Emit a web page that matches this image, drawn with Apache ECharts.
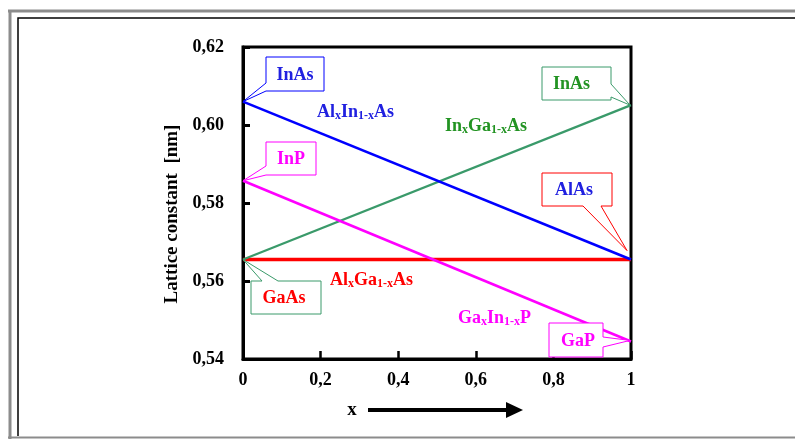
<!DOCTYPE html>
<html><head><meta charset="utf-8">
<script src="https://cdn.jsdelivr.net/npm/echarts@6/dist/echarts.min.js"></script>
<style>html,body{margin:0;padding:0;background:#fff;overflow:hidden}#c{width:795px;height:439px}</style>
</head><body><div id="c"></div>
<script>
// ---- data ----
const xValues = [0, 1];
const alInAs = [0.6060, 0.5655];   // Al_x In_1-x As
const inGaAs = [0.5655, 0.6051];   // In_x Ga_1-x As
const alGaAs = [0.5655, 0.5655];   // Al_x Ga_1-x As
const gaInP  = [0.5857, 0.5445];   // Ga_x In_1-x P
const xTicks = [0, 0.2, 0.4, 0.6, 0.8, 1];
const xTickLabels = ['0', '0,2', '0,4', '0,6', '0,8', '1'];
const yTicks = [0.54, 0.56, 0.58, 0.60, 0.62];
const yTickLabels = ['0,54', '0,56', '0,58', '0,60', '0,62'];
const yTitle = 'Lattice constant  [nm]';
const xTitle = 'x';

const BLUE = '#0000ff', BLUE_T = '#2020e0';
const GREEN = '#3a9a6a', GREEN_T = '#229322';
const RED = '#ff0000', MAG = '#ff00ff';
const FONT = '"Liberation Serif","Times New Roman",serif';

function lab(v, ticks, labels) {
  let bi = 0, bd = 1e9;
  ticks.forEach((t, i) => { const d = Math.abs(t - v); if (d < bd) { bd = d; bi = i; } });
  return labels[bi];
}
function pairs(ys) { return xValues.map((x, i) => [x, ys[i]]); }

const chart = echarts.init(document.getElementById('c'), null, { renderer: 'canvas' });
const option = {
  animation: false,
  backgroundColor: '#fff',
  grid: { left: 243, top: 47, width: 388, height: 312, show: true, borderColor: '#000', borderWidth: 3, backgroundColor: 'transparent' },
  xAxis: {
    type: 'value', min: 0, max: 1, interval: 0.2,
    axisLine: { show: true, lineStyle: { color: '#000', width: 3 } },
    axisTick: { show: true, inside: true, length: 8, lineStyle: { color: '#000', width: 2.5 } },
    axisLabel: { margin: 12, color: '#000', fontFamily: FONT, fontWeight: 'bold', fontSize: 18,
      formatter: v => lab(v, xTicks, xTickLabels) },
    splitLine: { show: false }
  },
  yAxis: {
    type: 'value', min: 0.54, max: 0.62, interval: 0.02,
    axisLine: { show: true, lineStyle: { color: '#000', width: 3 } },
    axisTick: { show: true, inside: true, length: 7, lineStyle: { color: '#000', width: 3 } },
    axisLabel: { margin: 19, color: '#000', fontFamily: FONT, fontWeight: 'bold', fontSize: 18,
      formatter: v => lab(v, yTicks, yTickLabels) },
    splitLine: { show: false }
  },
  series: [
    { type: 'line', data: pairs(alGaAs), symbol: 'none', lineStyle: { color: RED, width: 3.5 }, z: 3 },
    { type: 'line', data: pairs(inGaAs), symbol: 'none', lineStyle: { color: GREEN, width: 2.2 }, z: 3 },
    { type: 'line', data: pairs(gaInP), symbol: 'none', lineStyle: { color: MAG, width: 2.6 }, z: 3 },
    { type: 'line', data: pairs(alInAs), symbol: 'none', lineStyle: { color: BLUE, width: 2.6 }, z: 4 }
  ]
};
chart.setOption(option);

function px(x, y) { return chart.convertToPixel({ gridIndex: 0 }, [x, y]); }

function calloutPoints(b, side, b1, b2, tip) {
  const [x0, y0, x1, y1] = b;
  if (side === 'left') return [[x0,y0],[x1,y0],[x1,y1],[x0,y1],[x0,b2],tip,[x0,b1]];
  if (side === 'right') return [[x0,y0],[x1,y0],[x1,b1],tip,[x1,b2],[x1,y1],[x0,y1]];
  if (side === 'bottom') return [[x0,y0],[x1,y0],[x1,y1],[b2,y1],tip,[b1,y1],[x0,y1]];
  return [[x0,y0],[b1,y0],tip,[b2,y0],[x1,y0],[x1,y1],[x0,y1]];
}

const callouts = [
  { text: 'InAs', anchor: [xValues[0], alInAs[0]], off: [0, 0], box: [266, 57, 324, 91], side: 'left', b1: 83, b2: 91, stroke: BLUE, color: BLUE_T, dx: 0 },
  { text: 'InP', anchor: [xValues[0], gaInP[0]], off: [0, 0], box: [266, 142, 316, 175], side: 'left', b1: 166, b2: 175, stroke: MAG, color: MAG, dx: 0 },
  { text: 'InAs', anchor: [xValues[1], inGaAs[1]], off: [-1, 0], box: [542, 67, 611, 100], side: 'right', b1: 84, b2: 97, stroke: GREEN, color: GREEN_T, dx: -5 },
  { text: 'AlAs', anchor: [xValues[1], alGaAs[1]], off: [-4, -9], box: [542, 173, 612, 206], side: 'bottom', b1: 583, b2: 601, stroke: RED, color: BLUE_T, dx: -3 },
  { text: 'GaAs', anchor: [xValues[0], alGaAs[0]], off: [0, 0], box: [251, 281, 321, 314], side: 'top', b1: 262, b2: 278, stroke: GREEN, color: RED, dx: -2 },
  { text: 'GaP', anchor: [xValues[1], gaInP[1]], off: [-1, -1], box: [549, 323, 603, 357], side: 'right', b1: 337, b2: 347, stroke: MAG, color: MAG, dx: 2 }
];

const g = [];
// frame (gray outer border on top/left/bottom, black inner edge)
g.push({ type: 'line', shape: { x1: 8, y1: 11, x2: 800, y2: 11 }, style: { stroke: '#8c8c8c', lineWidth: 3 }, z: 0 });
g.push({ type: 'line', shape: { x1: 10, y1: 10, x2: 10, y2: 439 }, style: { stroke: '#8c8c8c', lineWidth: 3 }, z: 0 });
g.push({ type: 'line', shape: { x1: 8, y1: 437.5, x2: 800, y2: 437.5 }, style: { stroke: '#8c8c8c', lineWidth: 2 }, z: 0 });
g.push({ type: 'polyline', shape: { points: [[18, 436], [18, 18], [800, 18]] }, style: { fill: 'none', stroke: '#000', lineWidth: 1.5 }, z: 0 });

callouts.forEach(c => {
  const p = px(c.anchor[0], c.anchor[1]);
  const tip = [p[0] + c.off[0], p[1] + c.off[1]];
  g.push({ type: 'polygon', shape: { points: calloutPoints(c.box, c.side, c.b1, c.b2, tip) },
    style: { fill: '#fff', stroke: c.stroke, lineWidth: 1 }, z: 10 });
  g.push({ type: 'text', x: (c.box[0] + c.box[2]) / 2 + c.dx, y: (c.box[1] + c.box[3]) / 2 + 1,
    style: { text: c.text, fill: c.color, font: 'bold 18px ' + FONT, align: 'center', verticalAlign: 'middle' }, z: 11 });
});

function richLabel(parts, color, x, y) {
  const text = parts.map(p => '{' + (p[1] ? 's' : 'b') + '|' + p[0] + '}').join('');
  return { type: 'text', x: x, y: y, z: 11,
    style: { text: text, fill: color, align: 'left', verticalAlign: 'middle',
      rich: {
        b: { fontFamily: FONT, fontWeight: 'bold', fontSize: 18, lineHeight: 20, fill: color },
        s: { fontFamily: FONT, fontWeight: 'bold', fontSize: 12, lineHeight: 8, verticalAlign: 'bottom', fill: color }
      } } };
}
g.push(richLabel([['Al'], ['x', 1], ['In'], ['1-x', 1], ['As']], BLUE_T, 317, 112));
g.push(richLabel([['In'], ['x', 1], ['Ga'], ['1-x', 1], ['As']], GREEN_T, 445, 126));
g.push(richLabel([['Al'], ['x', 1], ['Ga'], ['1-x', 1], ['As']], RED, 330, 280));
g.push(richLabel([['Ga'], ['x', 1], ['In'], ['1-x', 1], ['P']], MAG, 458, 318));

// y-axis title
g.push({ type: 'text', x: 172, y: 214, rotation: Math.PI / 2, z: 11,
  style: { text: yTitle, fill: '#000', font: 'bold 19px ' + FONT, align: 'center', verticalAlign: 'middle' } });

// x label and arrow
g.push({ type: 'text', x: 352, y: 410, style: { text: xTitle, fill: '#000', font: 'bold 19px ' + FONT, align: 'center', verticalAlign: 'middle' }, z: 11 });
g.push({ type: 'line', shape: { x1: 368, y1: 410, x2: 508, y2: 410 }, style: { stroke: '#000', lineWidth: 4 }, z: 11 });
g.push({ type: 'polygon', shape: { points: [[506, 402], [523, 410], [506, 418]] }, style: { fill: '#000' }, z: 11 });

chart.setOption({ graphic: g });
</script></body></html>
